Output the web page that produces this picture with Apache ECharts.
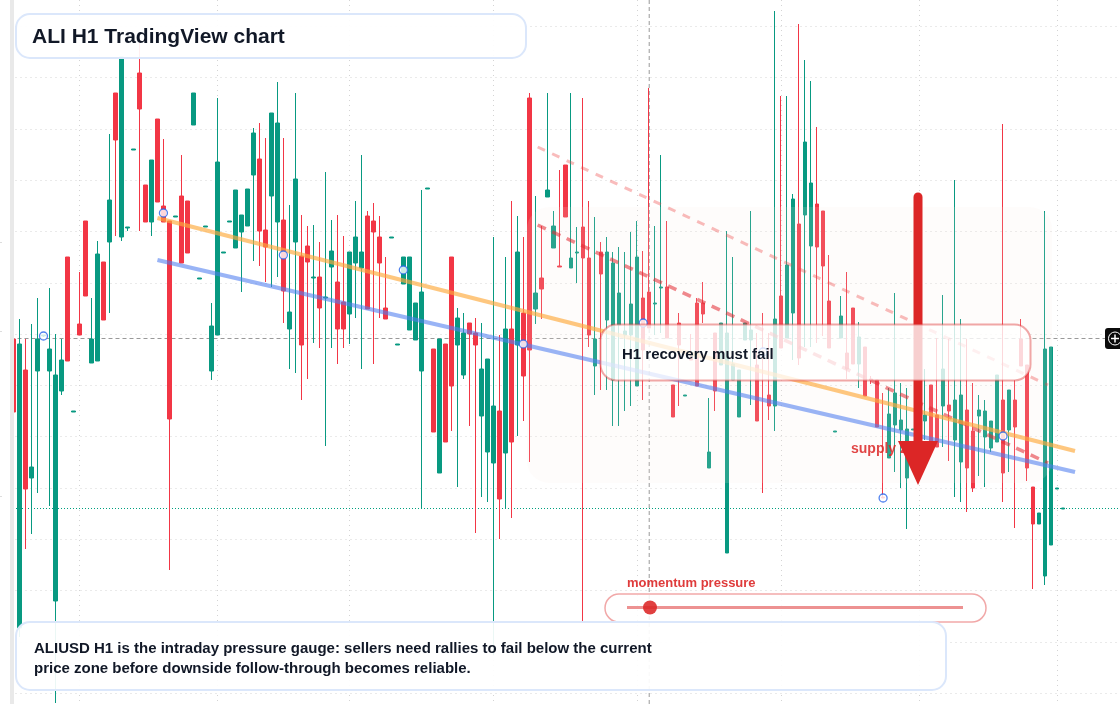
<!DOCTYPE html>
<html>
<head>
<meta charset="utf-8">
<title>ALI H1</title>
<style>
  html, body { margin: 0; padding: 0; background: #fff; }
  #chart { width: 1120px; height: 704px; }
</style>
<script src="https://cdn.jsdelivr.net/npm/echarts@6/dist/echarts.min.js"></script>
</head>
<body>
<div id="chart"></div>
<script>
// Hourly ALIUSD candles, oldest first.
const opens = [3061,2772,3030,2922,3029,3064,3029,2799,3009,3143,2988,3076,3179,3037,3039,3138,3158,3307,3163,3172,3250,3327,3215,3178,3281,3194,3179,3183,3204,3199,3275,3121,3173,3029,3065,3147,3178,3152,3168,3174,3225,3241,3170,3204,3178,3180,3071,3158,3144,3154,3122,3123,3102,3133,3118,3098,3086,3137,3132,3184,3179,3163,3092,3162,3055,3116,3070,3060,3029,3211,3051,2927,3056,3143,3055,3025,3077,3067,2984,2948,2937,2989,2947,3071,3055,3087,3302,3091,3122,3203,3152,3134,3235,3132,3147,3173,3142,3034,3148,3080,3020,3075,3065,3065,3014,3102,3108,3096,3112,3113,3015,3077,3004,3042,3097,3097,2932,3067,3035,2847,3020,2983,3060,3060,3035,3049,3005,2994,3104,3062,3087,3176,3185,3154,3196,3189,3099,2968,3062,3047,3092,3036,3053,3021,3020,2903,2942,2975,2970,2922,2970,2969,2979,3015,2985,2994,2995,2960,2938,2990,2969,2984,2963,2952,2958,3000,2970,3000,3061,3035,2913,2876,2824,2855,2911,2891];
const closes = [2988,3056,2911,2933,3061,3065,3051,3025,3040,3039,2989,3065,3104,3061,3146,3080,3200,3260,3343,3173,3251,3291,3178,3240,3198,3178,2981,3184,3137,3147,3307,3122,3174,3074,3238,3148,3179,3210,3185,3211,3267,3169,3153,3287,3277,3109,3088,3221,3055,3138,3123,3092,3103,3149,3071,3071,3148,3163,3148,3091,3168,3137,3081,3163,3056,3143,3143,3097,3108,3212,2968,3061,2958,3014,3082,3067,3066,3055,3031,3041,2994,2901,3071,2958,3148,3024,3050,3107,3111,3210,3174,3133,3183,3142,3148,3142,3065,3061,3126,3148,3137,3107,3069,3096,3143,3050,3072,3097,3113,3062,2983,3055,3005,3040,3014,3086,2948,3009,3077,3067,3036,3030,3077,3070,2979,3048,2994,3081,3052,3135,3201,3042,3258,3217,3153,3134,3052,2969,3084,3031,3036,3063,3004,3020,2973,2902,2986,3007,2980,2971,2971,2970,2985,2953,2953,3031,2989,3000,3005,2932,2912,2990,2989,2979,3025,2927,3010,2973,3034,2932,2876,2887,3051,3053,2912,2892];
const lows = [2988,2763,2851,2866,2907,3063,2894,2697,3005,3039,2988,3065,3104,3037,3039,3080,3087,3164,3159,3169,3250,3169,3178,3164,3198,3178,2830,3183,3137,3147,3275,3121,3173,3020,3065,3147,3178,3152,3108,3174,3139,3134,3118,3113,3123,3077,3031,3027,3000,3021,3057,3052,2954,3052,3036,3052,3056,3082,3031,3091,3036,3082,3081,3162,3055,3116,3070,3060,2892,3211,2968,2927,2958,2969,2913,3021,2974,2867,2903,2898,2745,2861,2892,2882,2964,2979,2938,3076,3081,3203,3152,3133,3183,3132,3117,2779,3053,3005,3010,3010,2974,2974,2989,2994,3014,3000,3072,3065,3067,3062,2983,2994,3004,3040,3014,3077,2932,2989,3035,2847,3020,2983,3060,2995,2979,2907,2980,2969,3052,3062,3040,3035,3053,3053,3057,3064,3052,2968,3062,3021,3036,3012,3004,3016,2973,2902,2942,2928,2912,2871,2970,2969,2960,2953,2953,2953,2939,2903,2898,2888,2908,2924,2913,2948,2958,2898,2928,2872,3034,2919,2811,2876,2815,2855,2911,2891];
const highs = [3061,3081,3061,3076,3102,3065,3112,3066,3061,3143,2989,3128,3179,3102,3159,3138,3266,3307,3343,3173,3251,3357,3215,3240,3281,3261,3179,3184,3245,3199,3307,3122,3174,3097,3302,3148,3179,3210,3185,3211,3272,3277,3262,3287,3318,3262,3195,3307,3185,3174,3175,3158,3228,3180,3185,3164,3148,3199,3245,3189,3197,3184,3143,3163,3056,3143,3143,3097,3210,3212,3051,3061,3056,3143,3092,3087,3077,3082,3077,3041,3163,3065,3143,3199,3184,3163,3307,3204,3174,3307,3189,3230,3235,3307,3173,3302,3199,3183,3158,3163,3148,3153,3148,3168,3179,3149,3312,3174,3245,3179,3015,3087,3005,3066,3102,3118,3002,3067,3077,3169,3143,3030,3077,3189,3067,3087,3067,3389,3304,3304,3206,3376,3340,3319,3273,3189,3145,2969,3104,3128,3092,3078,3053,3024,3020,3007,3012,3107,3017,3012,2971,2970,3031,3015,3062,3105,3061,3220,3081,3061,3017,3005,3000,2979,3025,3276,3010,3020,3081,3035,2913,2887,3189,3053,2912,2892];

// Session breaks and price levels that carry a grid line.
const sessionBreaks = [11,34,56,80,104,128,151,174];
const priceLevels = [3373.7,3322.4,3271.1,3219.8,3168.5,3117.2,3065.9,3014.6,2963.3,2912,2860.7,2809.4,2758.1,2706.8];
const hourSlots = Array.from({ length: 185 }, (_, i) => String(i));

// Analysis overlays: [candle position, price].
const resistanceLine = [[24,3182],[177,2949]];
const supportLine = [[24,3140],[177,2928]];
const channelUpper = [[87.4,3253],[172.5,3015]];
const channelLower = [[87.4,3175],[172.5,2937]];
const pivotSlots = [5,25,45,65,85,105,125,145,165];
const pivotPrices = [3064,3187,3145,3130,3056,3077,3048,2902,2964];
const lastPrice = 3061.5;
const targetPrice = 2891.5;
const cursorSlot = 106;

const RED = '#f23645', GREEN = '#089981', ALERT = '#dc2626';
const candles = opens.map((o, i) => [o, closes[i], lows[i], highs[i]]);
const pivots = pivotSlots.map((s, i) => [s, pivotPrices[i]]);

function overlayLine(name, data, color, width, type, z, dashOffset) {
  return {
    name, type: 'line', xAxisIndex: 1, yAxisIndex: 0, data, z,
    showSymbol: false, silent: true, animation: false,
    lineStyle: { color, width, type, cap: 'butt', dashOffset: dashOffset || 0 }
  };
}

const panelEdge = 'rgba(220,38,38,0.4)';
const noteEdge = '#dbe7fb';
const gridDots = { color: '#d4d4d4', width: 1, type: [1, 4] };
const graphicItems = [
  // Pale band marking the supply area
  { type: 'rect', z: 3, silent: true, shape: { x: 527, y: 207, width: 525, height: 276, r: 22 },
    style: { fill: 'rgba(245,234,228,0.14)' } },
  { type: 'text', z: 4, silent: true, style: { text: 'supply zone', x: 851, y: 449, verticalAlign: 'middle',
    font: 'bold 14px "Liberation Sans", Arial, sans-serif', fill: 'rgba(220,38,38,0.85)' } },
  // Downward arrow
  { type: 'line', z: 8, silent: true, shape: { x1: 918, y1: 197, x2: 918, y2: 445 },
    style: { stroke: ALERT, lineWidth: 9, lineCap: 'round' } },
  { type: 'polygon', z: 8, silent: true, shape: { points: [[898,441],[938,441],[918,485]] },
    style: { fill: ALERT } },
  // Note over the recovery area
  { type: 'rect', z: 10, silent: true, shape: { x: 600.5, y: 324.5, width: 430, height: 56, r: 16 },
    style: { fill: 'rgba(255,255,255,0.78)', stroke: panelEdge, lineWidth: 2 } },
  { type: 'text', z: 11, silent: true, style: { text: 'H1 recovery must fail', x: 622, y: 354.5, verticalAlign: 'middle',
    font: 'bold 15px "Liberation Sans", Arial, sans-serif', fill: '#111827' } },
  // Momentum gauge
  { type: 'text', z: 11, silent: true, style: { text: 'momentum pressure', x: 627, y: 583.5, verticalAlign: 'middle',
    font: 'bold 13px "Liberation Sans", Arial, sans-serif', fill: 'rgba(220,38,38,0.9)' } },
  { type: 'rect', z: 10, silent: true, shape: { x: 605, y: 594, width: 381, height: 28, r: 14 },
    style: { fill: 'rgba(255,255,255,0.85)', stroke: panelEdge, lineWidth: 1.5 } },
  { type: 'line', z: 11, silent: true, shape: { x1: 627, y1: 607.5, x2: 963, y2: 607.5 },
    style: { stroke: 'rgba(220,38,38,0.5)', lineWidth: 3 } },
  { type: 'circle', z: 11, silent: true, shape: { cx: 650, cy: 607.5, r: 7 },
    style: { fill: 'rgba(220,38,38,0.88)' } },
  // Heading and summary cards
  { type: 'rect', z: 12, silent: true, shape: { x: 16, y: 14, width: 510, height: 44, r: 14 },
    style: { fill: 'rgba(255,255,255,0.92)', stroke: noteEdge, lineWidth: 2 } },
  { type: 'text', z: 13, silent: true, style: { text: 'ALI H1 TradingView chart', x: 32, y: 37, verticalAlign: 'middle',
    font: 'bold 21px "Liberation Sans", Arial, sans-serif', fill: '#111827' } },
  { type: 'rect', z: 12, silent: true, shape: { x: 16, y: 622, width: 930, height: 68, r: 14 },
    style: { fill: 'rgba(255,255,255,0.92)', stroke: noteEdge, lineWidth: 2 } },
  { type: 'text', z: 13, silent: true, style: { text: 'ALIUSD H1 is the intraday pressure gauge: sellers need rallies to fail below the current', x: 34, y: 648.5, verticalAlign: 'middle',
    font: 'bold 15px "Liberation Sans", Arial, sans-serif', fill: '#111827' } },
  { type: 'text', z: 13, silent: true, style: { text: 'price zone before downside follow-through becomes reliable.', x: 34, y: 668.5, verticalAlign: 'middle',
    font: 'bold 15px "Liberation Sans", Arial, sans-serif', fill: '#111827' } },
  // Left edge strip and the clipped scale marks beside it
  { type: 'rect', z: 14, silent: true, shape: { x: 10, y: 0, width: 4, height: 704 }, style: { fill: '#e9e9e9' } },
  { type: 'line', z: 14, silent: true, shape: { x1: 0, y1: 242.5, x2: 2, y2: 242.5 }, style: { stroke: '#dddddd', lineWidth: 1 } },
  { type: 'line', z: 14, silent: true, shape: { x1: 0, y1: 331.5, x2: 2, y2: 331.5 }, style: { stroke: '#dddddd', lineWidth: 1 } },
  { type: 'line', z: 14, silent: true, shape: { x1: 0, y1: 496.5, x2: 2, y2: 496.5 }, style: { stroke: '#dddddd', lineWidth: 1 } },
  // Zoom control at the right edge
  { type: 'rect', z: 14, silent: true, shape: { x: 1105, y: 328, width: 20, height: 21, r: 3 }, style: { fill: '#0b0b0b' } },
  { type: 'circle', z: 15, silent: true, shape: { cx: 1115, cy: 338.5, r: 6.5 }, style: { fill: 'none', stroke: '#fff', lineWidth: 1 } },
  { type: 'line', z: 15, silent: true, shape: { x1: 1111, y1: 338.5, x2: 1119, y2: 338.5 }, style: { stroke: '#fff', lineWidth: 1.5 } },
  { type: 'line', z: 15, silent: true, shape: { x1: 1115, y1: 334.5, x2: 1115, y2: 342.5 }, style: { stroke: '#fff', lineWidth: 1.5 } }
];

const chart = echarts.init(document.getElementById('chart'), null, { renderer: 'canvas' });
chart.setOption({
  animation: false,
  backgroundColor: '#ffffff',
  grid: { left: 10.5, top: 0, width: 1110, height: 704, containLabel: false },
  xAxis: [
    {
      type: 'category', data: hourSlots, boundaryGap: true,
      axisLine: { show: false }, axisLabel: { show: false }, axisTick: { show: false },
      splitLine: { show: false }
    },
    {
      type: 'value', min: -0.5, max: 184.5,
      axisLine: { show: false }, axisLabel: { show: false },
      axisTick: { show: false, customValues: sessionBreaks },
      splitLine: { show: true, lineStyle: gridDots }
    }
  ],
  yAxis: {
    type: 'value', min: 2696, max: 3400,
    axisLine: { show: false }, axisLabel: { show: false },
    axisTick: { show: false, customValues: priceLevels },
    splitLine: { show: true, lineStyle: gridDots }
  },
  graphic: { elements: graphicItems },
  series: [
    {
      name: 'ALIUSD', type: 'candlestick', data: candles, barWidth: 4, z: 2, silent: true,
      itemStyle: { color: GREEN, color0: RED, borderColor: GREEN, borderColor0: RED, borderWidth: 1 }
    },
    overlayLine('last price', [[-0.5,lastPrice],[182,lastPrice]], '#999999', 1, [4,3], 2),
    overlayLine('target', [[-0.5,targetPrice],[184.5,targetPrice]], '#00a07f', 1, [1,2], 2, 0.5),
    overlayLine('cursor', [[cursorSlot,2696],[cursorSlot,3400]], '#999999', 1, [4,3], 2),
    overlayLine('channel upper', channelUpper, 'rgba(239,68,68,0.36)', 3, [8,8], 5),
    overlayLine('channel lower', channelLower, 'rgba(225,40,50,0.55)', 3.5, [9,7], 5),
    overlayLine('resistance', resistanceLine, 'rgba(253,170,60,0.66)', 4, 'solid', 6),
    overlayLine('support', supportLine, 'rgba(80,125,240,0.58)', 4, 'solid', 6),
    {
      name: 'pivots', type: 'scatter', xAxisIndex: 1, yAxisIndex: 0, data: pivots, z: 7,
      symbol: 'circle', symbolSize: 8, silent: true,
      itemStyle: { color: '#ffffff', borderColor: '#2563eb', borderWidth: 1.3 }
    }
  ]
});
</script>
</body>
</html>
